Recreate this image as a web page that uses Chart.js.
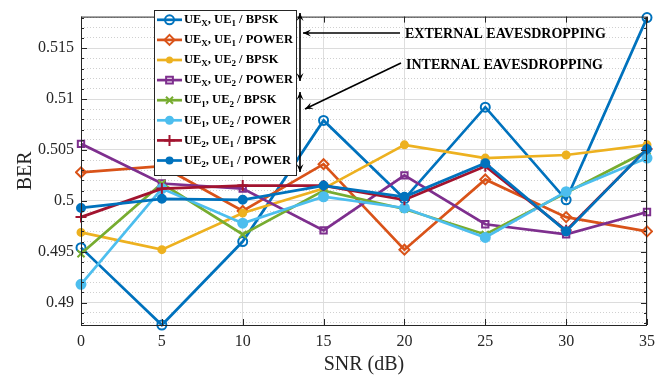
<!DOCTYPE html>
<html>
<head>
<meta charset="utf-8">
<script src="https://cdn.jsdelivr.net/npm/chart.js@4.4.1/dist/chart.umd.min.js"></script>
<style>
  html, body { margin: 0; padding: 0; background: #fff; }
  #wrap { width: 666px; height: 377px; }
</style>
</head>
<body>
<div id="wrap"><canvas id="berChart" width="666" height="377"></canvas></div>
<script>
// -------- Data ----------
const snr = [0, 5, 10, 15, 20, 25, 30, 35];

const ueXue1Bpsk  = [0.4954, 0.4878, 0.4960, 0.5079, 0.5002, 0.5092, 0.5001, 0.5180];
const ueXue1Power = [0.5028, 0.5034, 0.4990, 0.5036, 0.4952, 0.5021, 0.4984, 0.4970];
const ueXue2Bpsk  = [0.4969, 0.4952, 0.4988, 0.5012, 0.5055, 0.5042, 0.5045, 0.5055];
const ueXue2Power = [0.5056, 0.5017, 0.5012, 0.4971, 0.5025, 0.4977, 0.4967, 0.4989];
const ue1ue2Bpsk  = [0.4948, 0.5017, 0.4967, 0.5010, 0.4992, 0.4967, 0.5008, 0.5049];
const ue1ue2Power = [0.4918, 0.5012, 0.4978, 0.5004, 0.4993, 0.4964, 0.5009, 0.5042];
const ue2ue1Bpsk  = [0.4984, 0.5012, 0.5015, 0.5015, 0.5001, 0.5034, 0.4971, 0.5051];
const ue2ue1Power = [0.4993, 0.5002, 0.5001, 0.5015, 0.5004, 0.5037, 0.4970, 0.5051];

const seriesLabels = [
  "UE_X, UE_1 / BPSK",
  "UE_X, UE_1 / POWER",
  "UE_X, UE_2 / BPSK",
  "UE_X, UE_2 / POWER",
  "UE_1, UE_2 / BPSK",
  "UE_1, UE_2 / POWER",
  "UE_2, UE_1 / BPSK",
  "UE_2, UE_1 / POWER"
];
const seriesValues = [ueXue1Bpsk, ueXue1Power, ueXue2Bpsk, ueXue2Power,
                      ue1ue2Bpsk, ue1ue2Power, ue2ue1Bpsk, ue2ue1Power];

const xTicks = [0, 5, 10, 15, 20, 25, 30, 35];
const yTicks = [0.49, 0.495, 0.5, 0.505, 0.51, 0.515];
const yTickLabels = ["0.49", "0.495", "0.5", "0.505", "0.51", "0.515"];
const yMin = 0.4878, yMax = 0.5181;

// -------- Styles ----------
const colors = ["#0072BD", "#D95319", "#EDB120", "#7E2F8E", "#77AC30", "#4DBEEE", "#A2142F", "#0072BD"];
const markers = [
  { style: "circle",  r: 4.5, fill: false },
  { style: "rectRot", r: 5,   fill: false },
  { style: "circle",  r: 3.5, fill: true },
  { style: "rect",    r: 4.5, fill: false },
  { style: "crossRot",r: 5,   fill: false },
  { style: "circle",  r: 4.5, fill: true },
  { style: "cross",   r: 5.5, fill: false },
  { style: "circle",  r: 4,   fill: true }
];

const serif = "'Liberation Serif', 'Times New Roman', serif";
const axisGray = "#262626";

const minorTicks = [];
for (let v = 488; v <= 518; v++) minorTicks.push(v / 1000);

const datasets = seriesValues.map((vals, i) => ({
  label: seriesLabels[i],
  data: snr.map((x, j) => ({ x: x, y: vals[j] })),
  borderColor: colors[i],
  backgroundColor: markers[i].fill ? colors[i] : "rgba(0,0,0,0)",
  pointBorderColor: colors[i],
  pointBackgroundColor: markers[i].fill ? colors[i] : "rgba(0,0,0,0)",
  pointStyle: markers[i].style,
  pointRadius: markers[i].r,
  pointBorderWidth: 2,
  borderWidth: 2.7,
  tension: 0,
  clip: 6,
  order: seriesValues.length - i
}));

// -------- Plugin: frame, inner ticks, legend, arrows ----------
function drawMarker(ctx, m, color, x, y) {
  ctx.save();
  ctx.strokeStyle = color;
  ctx.fillStyle = color;
  ctx.lineWidth = 2;
  const r = m.r;
  ctx.beginPath();
  if (m.style === "circle") {
    ctx.arc(x, y, r, 0, Math.PI * 2);
    if (m.fill) ctx.fill(); else ctx.stroke();
  } else if (m.style === "rectRot") {
    ctx.moveTo(x, y - r); ctx.lineTo(x + r, y); ctx.lineTo(x, y + r); ctx.lineTo(x - r, y); ctx.closePath();
    ctx.stroke();
  } else if (m.style === "rect") {
    ctx.rect(x - r * 0.75, y - r * 0.75, r * 1.5, r * 1.5);
    ctx.stroke();
  } else if (m.style === "crossRot") {
    const d = r * 0.7;
    ctx.moveTo(x - d, y - d); ctx.lineTo(x + d, y + d);
    ctx.moveTo(x + d, y - d); ctx.lineTo(x - d, y + d);
    ctx.stroke();
  } else if (m.style === "cross") {
    ctx.moveTo(x - r, y); ctx.lineTo(x + r, y);
    ctx.moveTo(x, y - r); ctx.lineTo(x, y + r);
    ctx.stroke();
  }
  ctx.restore();
}

function drawSubText(ctx, text, x, y, size) {
  const parts = text.split(/_(.)/);
  let cx = x;
  parts.forEach((p, k) => {
    const sub = k % 2 === 1;
    ctx.font = "bold " + (sub ? Math.round(size * 0.72) : size) + "px " + serif;
    ctx.fillText(p, cx, sub ? y + 4 : y);
    cx += ctx.measureText(p).width;
  });
}

function arrowHead(ctx, x, y, angle) {
  const len = 8, wid = 3.5;
  ctx.save();
  ctx.translate(x, y);
  ctx.rotate(angle);
  ctx.beginPath();
  ctx.moveTo(0, 0);
  ctx.lineTo(-len, -wid);
  ctx.lineTo(-len * 0.6, 0);
  ctx.lineTo(-len, wid);
  ctx.closePath();
  ctx.fill();
  ctx.restore();
}

function arrow(ctx, x1, y1, x2, y2, both) {
  ctx.beginPath();
  ctx.moveTo(x1, y1);
  ctx.lineTo(x2, y2);
  ctx.stroke();
  const a = Math.atan2(y2 - y1, x2 - x1);
  arrowHead(ctx, x2, y2, a);
  if (both) arrowHead(ctx, x1, y1, a + Math.PI);
}

const decorPlugin = {
  id: "decor",
  afterDatasetsDraw(chart) {
    const ctx = chart.ctx;
    const a = chart.chartArea;
    const xs = chart.scales.x, ys = chart.scales.y;
    ctx.save();

    // frame
    ctx.strokeStyle = axisGray;
    ctx.lineWidth = 1;
    ctx.strokeRect(a.left + 0.5, a.top + 0.5, a.right - a.left - 1, a.bottom - a.top);

    // inward ticks
    ctx.beginPath();
    minorTicks.forEach(v => {
      const y = Math.round(ys.getPixelForValue(v)) + 0.5;
      const major = yTicks.some(t => Math.abs(t - v) < 1e-9);
      const len = major ? 6 : 3;
      ctx.moveTo(a.left, y); ctx.lineTo(a.left + len, y);
      ctx.moveTo(a.right, y); ctx.lineTo(a.right - len, y);
    });
    xTicks.forEach(v => {
      const x = Math.round(xs.getPixelForValue(v)) + 0.5;
      ctx.moveTo(x, a.bottom); ctx.lineTo(x, a.bottom - 6);
      ctx.moveTo(x, a.top); ctx.lineTo(x, a.top + 6);
    });
    ctx.stroke();

    // legend box
    const lx = 154, ly = 10, lw = 142, lh = 165;
    ctx.fillStyle = "#fff";
    ctx.fillRect(lx, ly, lw, lh);
    ctx.strokeStyle = axisGray;
    ctx.lineWidth = 1;
    ctx.strokeRect(lx + 0.5, ly + 0.5, lw, lh);
    ctx.textBaseline = "middle";
    ctx.textAlign = "left";
    seriesLabels.forEach((lab, i) => {
      const y = 19.8 + i * 20.1;
      ctx.strokeStyle = colors[i];
      ctx.lineWidth = 2.7;
      ctx.beginPath();
      ctx.moveTo(157, y); ctx.lineTo(182, y);
      ctx.stroke();
      drawMarker(ctx, markers[i], colors[i], 169.5, y);
      ctx.fillStyle = "#000";
      drawSubText(ctx, lab, 184, y, 12.5);
    });

    // arrows
    ctx.strokeStyle = "#000";
    ctx.fillStyle = "#000";
    ctx.lineWidth = 1.6;
    arrow(ctx, 300, 13, 300, 81, true);
    arrow(ctx, 300, 92, 300, 172, true);
    arrow(ctx, 400, 33, 303, 33, false);
    arrow(ctx, 401, 63, 305, 109, false);

    // annotations
    ctx.fillStyle = "#000";
    ctx.font = "bold 14px " + serif;
    ctx.textBaseline = "alphabetic";
    ctx.fillText("EXTERNAL EAVESDROPPING", 405, 38);
    ctx.fillText("INTERNAL EAVESDROPPING", 406, 69);
    ctx.restore();
  }
};

// -------- Chart ----------
const ctx = document.getElementById("berChart").getContext("2d");
new Chart(ctx, {
  type: "line",
  data: { datasets },
  options: {
    responsive: false,
    animation: false,
    devicePixelRatio: 1,
    layout: { padding: { left: 0, right: 19, top: 9, bottom: 0 } },
    plugins: { legend: { display: false }, tooltip: { enabled: false } },
    scales: {
      x: {
        type: "linear",
        min: 0, max: 35,
        afterBuildTicks: s => { s.ticks = xTicks.map(v => ({ value: v })); },
        afterFit: s => { s.height = 52; },
        ticks: { color: axisGray, font: { family: serif, size: 16 }, padding: 7 },
        grid: { color: "#dedede", lineWidth: 1, drawTicks: false },
        border: { display: false },
        title: { display: true, text: "SNR (dB)", color: axisGray, font: { family: serif, size: 20 }, padding: { top: 0, bottom: 0 } }
      },
      y: {
        type: "linear",
        min: yMin, max: yMax,
        afterBuildTicks: s => { s.ticks = yTicks.map(v => ({ value: v })); },
        afterFit: s => { s.width = 81; },
        ticks: {
          color: axisGray, font: { family: serif, size: 16 }, padding: 7,
          callback: (v) => {
            const k = yTicks.findIndex(t => Math.abs(t - v) < 1e-9);
            return k >= 0 ? yTickLabels[k] : "";
          }
        },
        grid: { color: "#dcdcdc", lineWidth: 1, drawTicks: false },
        border: { display: false },
        title: { display: true, text: "BER", color: axisGray, font: { family: serif, size: 20 }, padding: { top: 14, bottom: 0 } }
      },
      yMinor: {
        type: "linear",
        position: "right",
        min: yMin, max: yMax,
        afterBuildTicks: s => { s.ticks = minorTicks.map(v => ({ value: v })); },
        afterFit: s => { s.width = 0; },
        ticks: { display: false },
        grid: {
          drawTicks: false,
          lineWidth: 1,
          color: c => yTicks.some(t => Math.abs(t - c.tick.value) < 1e-9) ? "rgba(0,0,0,0)" : "#d0d0d0"
        },
        border: { display: false, dash: [1, 2] }
      }
    }
  },
  plugins: [decorPlugin]
});
</script>
</body>
</html>
